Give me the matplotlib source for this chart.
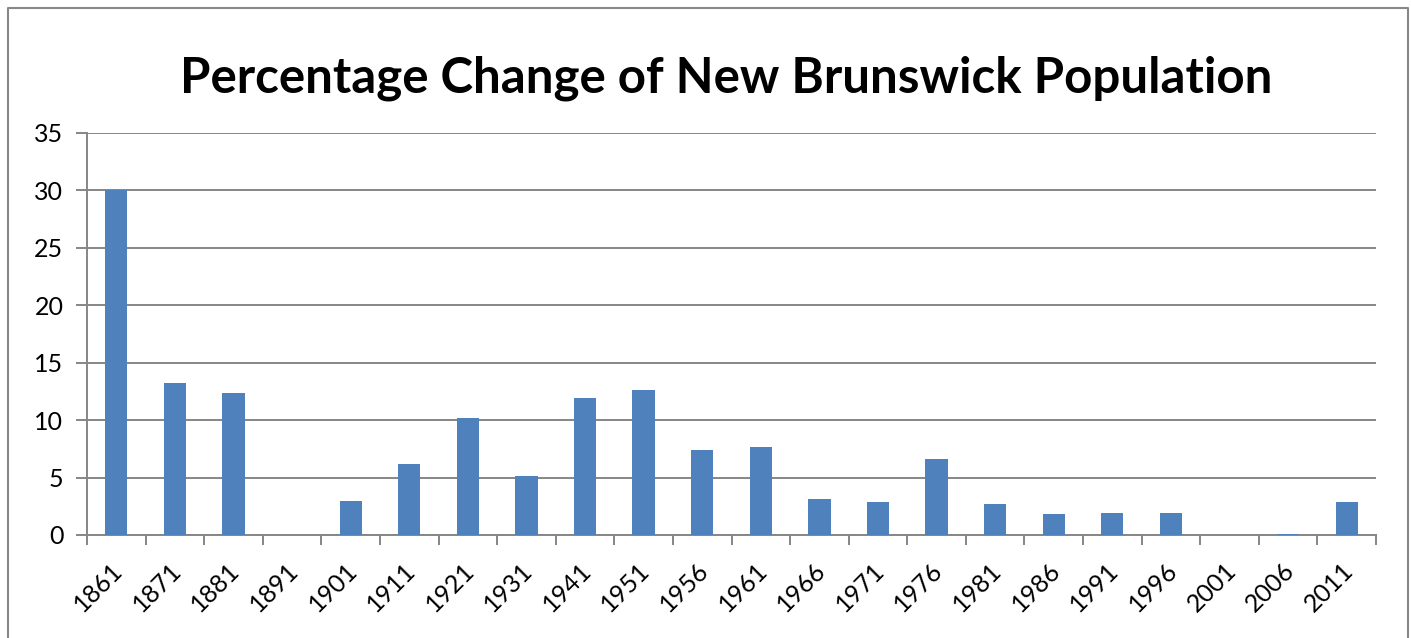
import numpy as np
import matplotlib.pyplot as plt
from matplotlib.lines import Line2D
from matplotlib.transforms import ScaledTranslation

# Datos
years = ['1861', '1871', '1881', '1891', '1901', '1911', '1921', '1931', '1941', '1951',
         '1956', '1961', '1966', '1971', '1976', '1981', '1986', '1991', '1996', '2001',
         '2006', '2011']
pct_change = [30.0, 13.2, 12.4, 0.0, 3.0, 6.2, 10.2, 5.1, 11.9, 12.6,
              7.4, 7.7, 3.1, 2.85, 6.6, 2.7, 1.8, 1.9, 1.9, 0.0,
              0.1, 2.85]

plt.rcParams['font.family'] = ['Lato', 'DejaVu Sans']

fig = plt.figure(figsize=(14.11, 6.38), dpi=100)
ax = fig.add_axes([87 / 1411, 1 - 535 / 638, (1376 - 87) / 1411, (535 - 133) / 638])

x = np.arange(len(years))
ax.bar(x, pct_change, width=0.38, color='#4F81BD', zorder=3)

ax.set_xlim(-0.5, len(years) - 0.5)
ax.set_ylim(0, 35)
ax.set_yticks(np.arange(0, 36, 5))
ax.yaxis.grid(True, color='#868686', linewidth=1.4, zorder=0)
ax.tick_params(axis='y', length=8, width=1.4, color='#868686', labelsize=18, pad=9)

ax.set_xticks(x)
ax.set_xticklabels(years, rotation=45, ha='right', va='top', rotation_mode='anchor', fontsize=18)
ax.set_xticks(np.arange(-0.5, len(years)), minor=True)
ax.tick_params(axis='x', which='major', length=0, pad=17)
ax.tick_params(axis='x', which='minor', length=7, width=1.4, color='#868686')
# desplazar un poco las etiquetas a la izquierda
shift = ScaledTranslation(-4 / 72, 0, fig.dpi_scale_trans)
for lab in ax.get_xticklabels():
    lab.set_transform(lab.get_transform() + shift)

for side in ['top', 'right']:
    ax.spines[side].set_visible(False)
for side in ['left', 'bottom']:
    ax.spines[side].set_color('#868686')
    ax.spines[side].set_linewidth(1.4)

fig.text(726 / 1411, 1 - 78 / 638, 'Percentage Change of New Brunswick Population',
         ha='center', va='center', fontsize=35.5, fontweight='bold')

# marco exterior (el borde inferior queda fuera de la imagen)
fx0, fx1, fy1 = 8 / 1411, 1408 / 1411, 1 - 8 / 638
fig.add_artist(Line2D([fx0, fx0, fx1, fx1], [0, fy1, fy1, 0], color='#888888', linewidth=1.5))

fig.savefig('out.png', dpi=100)
